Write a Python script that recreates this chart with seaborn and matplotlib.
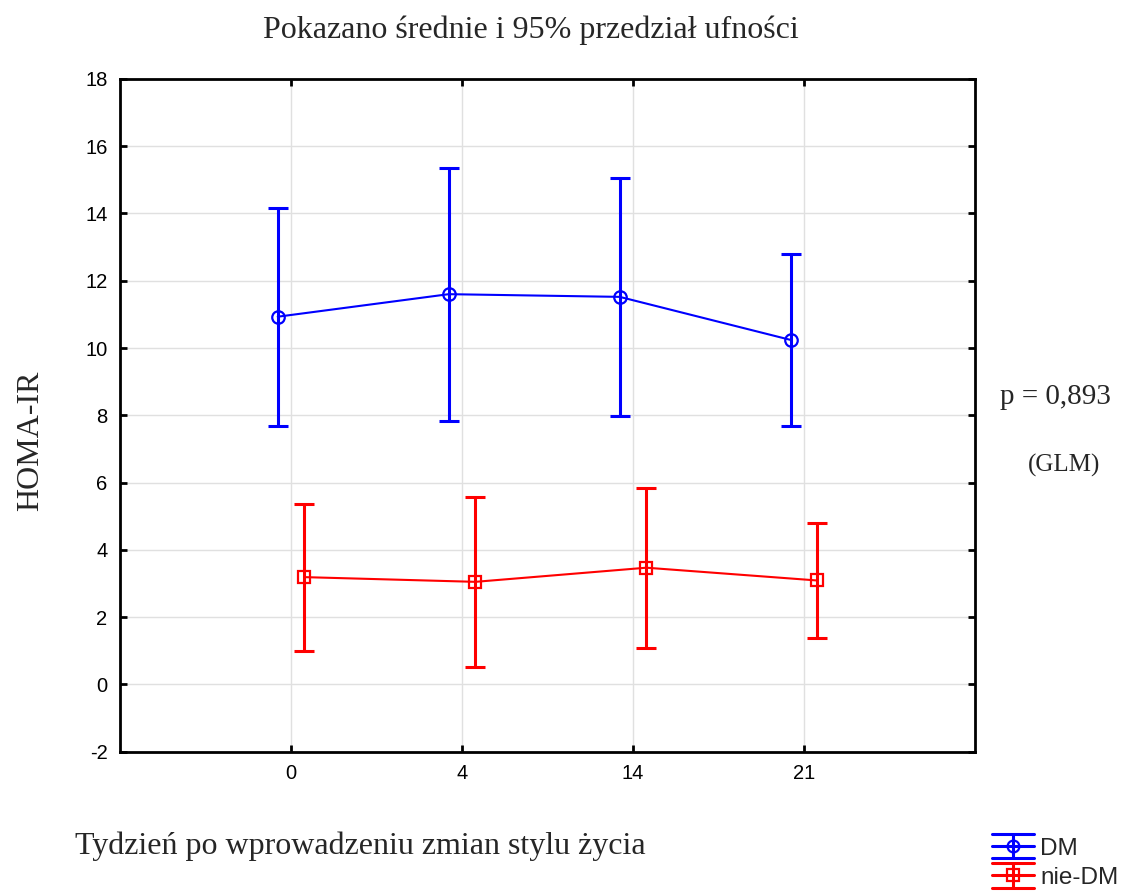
import matplotlib
matplotlib.use("Agg")
import matplotlib.pyplot as plt
import seaborn as sns
import pandas as pd
import numpy as np
from matplotlib.lines import Line2D

weeks = ["0", "4", "14", "21"]
dm_mean = [10.93, 11.60, 11.52, 10.24]
dm_low = [7.69, 7.84, 7.97, 7.69]
dm_high = [14.16, 15.35, 15.05, 12.79]
ndm_mean = [3.19, 3.05, 3.47, 3.09]
ndm_low = [0.98, 0.53, 1.09, 1.38]
ndm_high = [5.36, 5.58, 5.85, 4.80]
groups = ["DM", "nie-DM"]
colors = {"DM": "#0000ff", "nie-DM": "#ff0000"}
markers = {"DM": "o", "nie-DM": "s"}
offsets = {"DM": -0.078, "nie-DM": 0.078}

sns.set_theme(style="white")
plt.rcParams["font.family"] = ["Liberation Sans", "DejaVu Sans"]
plt.rcParams["axes.unicode_minus"] = False

rows = []
for g, m, lo, hi in [("DM", dm_mean, dm_low, dm_high), ("nie-DM", ndm_mean, ndm_low, ndm_high)]:
    for i, w in enumerate(weeks):
        rows.append({"pos": i + offsets[g], "week": w, "group": g, "mean": m[i], "low": lo[i], "high": hi[i]})
df = pd.DataFrame(rows)

fig = plt.figure(figsize=(11.22, 8.96), dpi=100)
ax = fig.add_axes([0.107, 0.161, 0.762, 0.751])

sns.lineplot(data=df, x="pos", y="mean", hue="group", style="group",
             palette=colors, markers=markers, dashes=False, linewidth=1.5,
             markersize=9, markerfacecolor="none", markeredgewidth=1.6,
             ax=ax, legend=False, zorder=4)
for line in ax.lines:
    c = line.get_color()
    line.set_markeredgecolor(c)
    line.set_markerfacecolor("none")

for g in groups:
    sub = df[df.group == g]
    ax.errorbar(sub["pos"], sub["mean"],
                yerr=[sub["mean"] - sub["low"], sub["high"] - sub["mean"]],
                fmt="none", ecolor=colors[g], elinewidth=2.2, capsize=7, capthick=2.2, zorder=5)

ax.set_xlim(-1, 4)
ax.set_ylim(-2, 18)
ax.set_xticks(range(len(weeks)))
ax.set_xticklabels(weeks)
ax.set_yticks(np.arange(-2, 19, 2))
ax.grid(True, color="#e0e0e0", linewidth=1.0)
ax.set_axisbelow(True)
for s in ax.spines.values():
    s.set_visible(True)
    s.set_color("black")
    s.set_linewidth(2.0)
ax.tick_params(direction="in", length=5, width=2, colors="black", labelsize=14.5,
               top=True, right=True, bottom=True, left=True, pad=9)
ax.set_xlabel("")
ax.set_ylabel("")

serif = ["Liberation Serif", "DejaVu Serif"]
fig.text(0.473, 0.966, "Pokazano średnie i 95% przedział ufności", ha="center", va="center",
         fontsize=23, family=serif)
fig.text(0.027, 0.508, "HOMA-IR", rotation=90, ha="center", va="center", fontsize=23, family=serif)
fig.text(0.067, 0.055, "Tydzień po wprowadzeniu zmian stylu życia", ha="left", va="center",
         fontsize=23, family=serif)
fig.text(0.941, 0.557, "p = 0,893", ha="center", va="center", fontsize=21, family=serif)
fig.text(0.948, 0.481, "(GLM)", ha="center", va="center", fontsize=18, family=serif)


class HandlerEB:
    def legend_artist(self, legend, orig_handle, fontsize, handlebox):
        c = orig_handle.get_color()
        mk = orig_handle.get_marker()
        x0, y0 = -handlebox.xdescent, -handlebox.ydescent
        w, h = handlebox.width, handlebox.height
        yc = y0 + h / 2.0
        d = 8.8
        tr = handlebox.get_transform()
        arts = []
        for yy in (yc - d, yc, yc + d):
            arts.append(Line2D([x0, x0 + w], [yy, yy], color=c, lw=2.2, transform=tr))
        arts.append(Line2D([x0 + w / 2, x0 + w / 2], [yc - d, yc + d], color=c, lw=2.2, transform=tr))
        arts.append(Line2D([x0 + w / 2], [yc], color=c, marker=mk, markersize=8.5,
                           markerfacecolor="none", markeredgewidth=1.6, linestyle="none", transform=tr))
        for a in arts:
            handlebox.add_artist(a)
        return arts[0]


handles = [Line2D([0], [0], color=colors[g], marker=markers[g]) for g in groups]
leg = fig.legend(handles, groups, loc="lower left", bbox_to_anchor=(0.884, 0.008),
                 frameon=False, fontsize=17.5, handlelength=1.75, handletextpad=0.25,
                 labelspacing=0.3, borderpad=0.0, borderaxespad=0.0,
                 handler_map={Line2D: HandlerEB()})

fig.savefig("out.png", dpi=100)
